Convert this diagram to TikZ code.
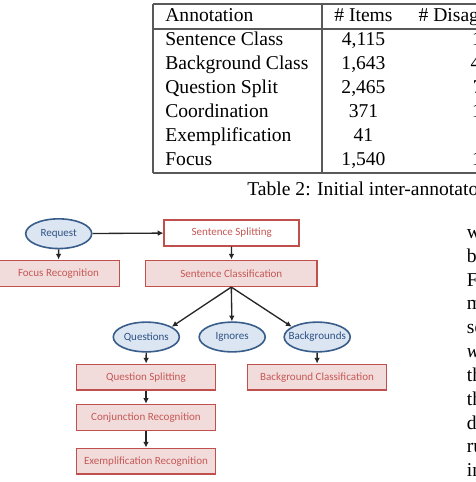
\documentclass[tikz,border=0pt]{standalone}
\usepackage{fontspec}
\setmainfont{Liberation Serif}
\newfontfamily\diagfont{Carlito}
\usepackage{tikz}
\usetikzlibrary{shapes.geometric,arrows.meta}

\begin{document}
\begin{tikzpicture}[x=0.5618pt,y=-0.5618pt]
  % Colors
  \definecolor{boxline}{RGB}{192,80,77}
  \definecolor{boxfill}{RGB}{242,220,219}
  \definecolor{boxtext}{RGB}{196,88,86}
  \definecolor{bubbleline}{RGB}{56,93,138}
  \definecolor{bubblefill}{RGB}{220,230,242}
  \definecolor{bubbletext}{RGB}{45,82,132}
  \colorlet{rulecolor}{black!65}

  % Styles
  \tikzstyle{paper text}=[inner sep=0pt,anchor=base west,font=\fontsize{11pt}{13pt}\selectfont]
  \tikzstyle{table rule}=[draw=rulecolor,line width=0.7pt]
  \tikzstyle{process box}=[rectangle,draw=boxline,fill=boxfill,text=boxtext,line width=0.9pt,
    minimum height=14.6pt,inner sep=0pt,font=\diagfont\fontsize{6.2pt}{7pt}\selectfont]
  \tikzstyle{start box}=[process box,fill=white]
  \tikzstyle{class bubble}=[ellipse,draw=bubbleline,fill=bubblefill,text=bubbletext,line width=0.9pt,
    minimum width=37.1pt,minimum height=16.7pt,inner ysep=0pt,inner xsep=-3pt,
    font=\diagfont\fontsize{6.2pt}{7pt}\selectfont]
  \tikzstyle{flow arrow}=[-{Latex[length=3.2pt,width=3.2pt]},line width=0.75pt,black!85]

  \useasboundingbox (0,0) rectangle (476,482);
  \clip (0,0) rectangle (476,482);

  % The table
  \draw[table rule] (153,4) -- (480,4);
  \draw[table rule] (153,29) -- (480,29);
  \draw[table rule] (153,173) -- (480,173);
  \draw[table rule] (153,4) -- (153,173);
  \draw[table rule] (322,4) -- (322,173);

  \node[paper text] (hdrann) at (165,21.7) {Annotation};
  \node[paper text,anchor=base] (hdritems) at (363.5,21.7) {\# Items};
  \node[paper text] (hdrdis) at (418.3,21.7) {\# Disag};

  \foreach \name/\items/\dis/\dx [count=\i from 0] in
      {Sentence Class/{4,115}/1/471.7, Background Class/{1,643}/4/470.3,
       Question Split/{2,465}/7/472.5, Coordination/371/1/471.7,
       Exemplification/41//480, Focus/{1,540}/1/471.7}
  {
    \node[paper text] (row\i) at (165,45.7+24*\i) {\name};
    \node[paper text,anchor=base] (items\i) at (363.5,45.7+24*\i) {\items};
    \node[paper text] (dis\i) at (\dx,45.7+24*\i) {\dis};
  }

  \node[paper text] (caption) at (247,195.5) {Table 2: Initial inter-annotato};

  % The text column
  \foreach \frag [count=\i from 0] in {w,b,F,m,se,\textit{w},th,th,d,ru,in}
    \node[paper text] (col\i) at (466.6,238.3+23.85*\i) {\frag};

  % The graphic
  \node[class bubble] (request) at (58.7,233.7) {Request};
  \node[start box,minimum width=75.8pt] (ssplit) at (231.7,232.7) {Sentence Splitting};
  \node[process box,minimum width=68.5pt] (focus) at (58.5,273.3) {Focus Recognition};
  \node[process box,minimum width=96.2pt] (sclass) at (231.3,273.3) {Sentence Classification};

  \node[class bubble] (questions) at (146.3,337) {Questions};
  \node[class bubble] (ignores) at (232.2,337) {Ignores};
  \node[class bubble] (backgrounds) at (317.2,337) {Backgrounds};

  \node[process box,minimum width=77.9pt] (qsplit) at (146,377.3) {Question Splitting};
  \node[process box,minimum width=78.3pt] (bclass) at (317,377.3) {Background Classification};
  \node[process box,minimum width=77.9pt] (conj) at (146,417.5) {Conjunction Recognition};
  \node[process box,minimum width=77.9pt] (exempl) at (146,461.3) {Exemplification Recognition};

  \draw[flow arrow] (request) -- (ssplit);
  \draw[flow arrow] (request) -- (focus);
  \draw[flow arrow] (ssplit) -- (sclass);
  \draw[flow arrow] (sclass.south) -- (questions.22);
  \draw[flow arrow] (sclass.south) -- (ignores);
  \draw[flow arrow] (sclass.south) -- (backgrounds.158);
  \draw[flow arrow] (questions) -- (qsplit);
  \draw[flow arrow] (backgrounds) -- (bclass);
  \draw[flow arrow] (qsplit) -- (conj);
  \draw[flow arrow] (conj) -- (exempl);
\end{tikzpicture}
\end{document}
